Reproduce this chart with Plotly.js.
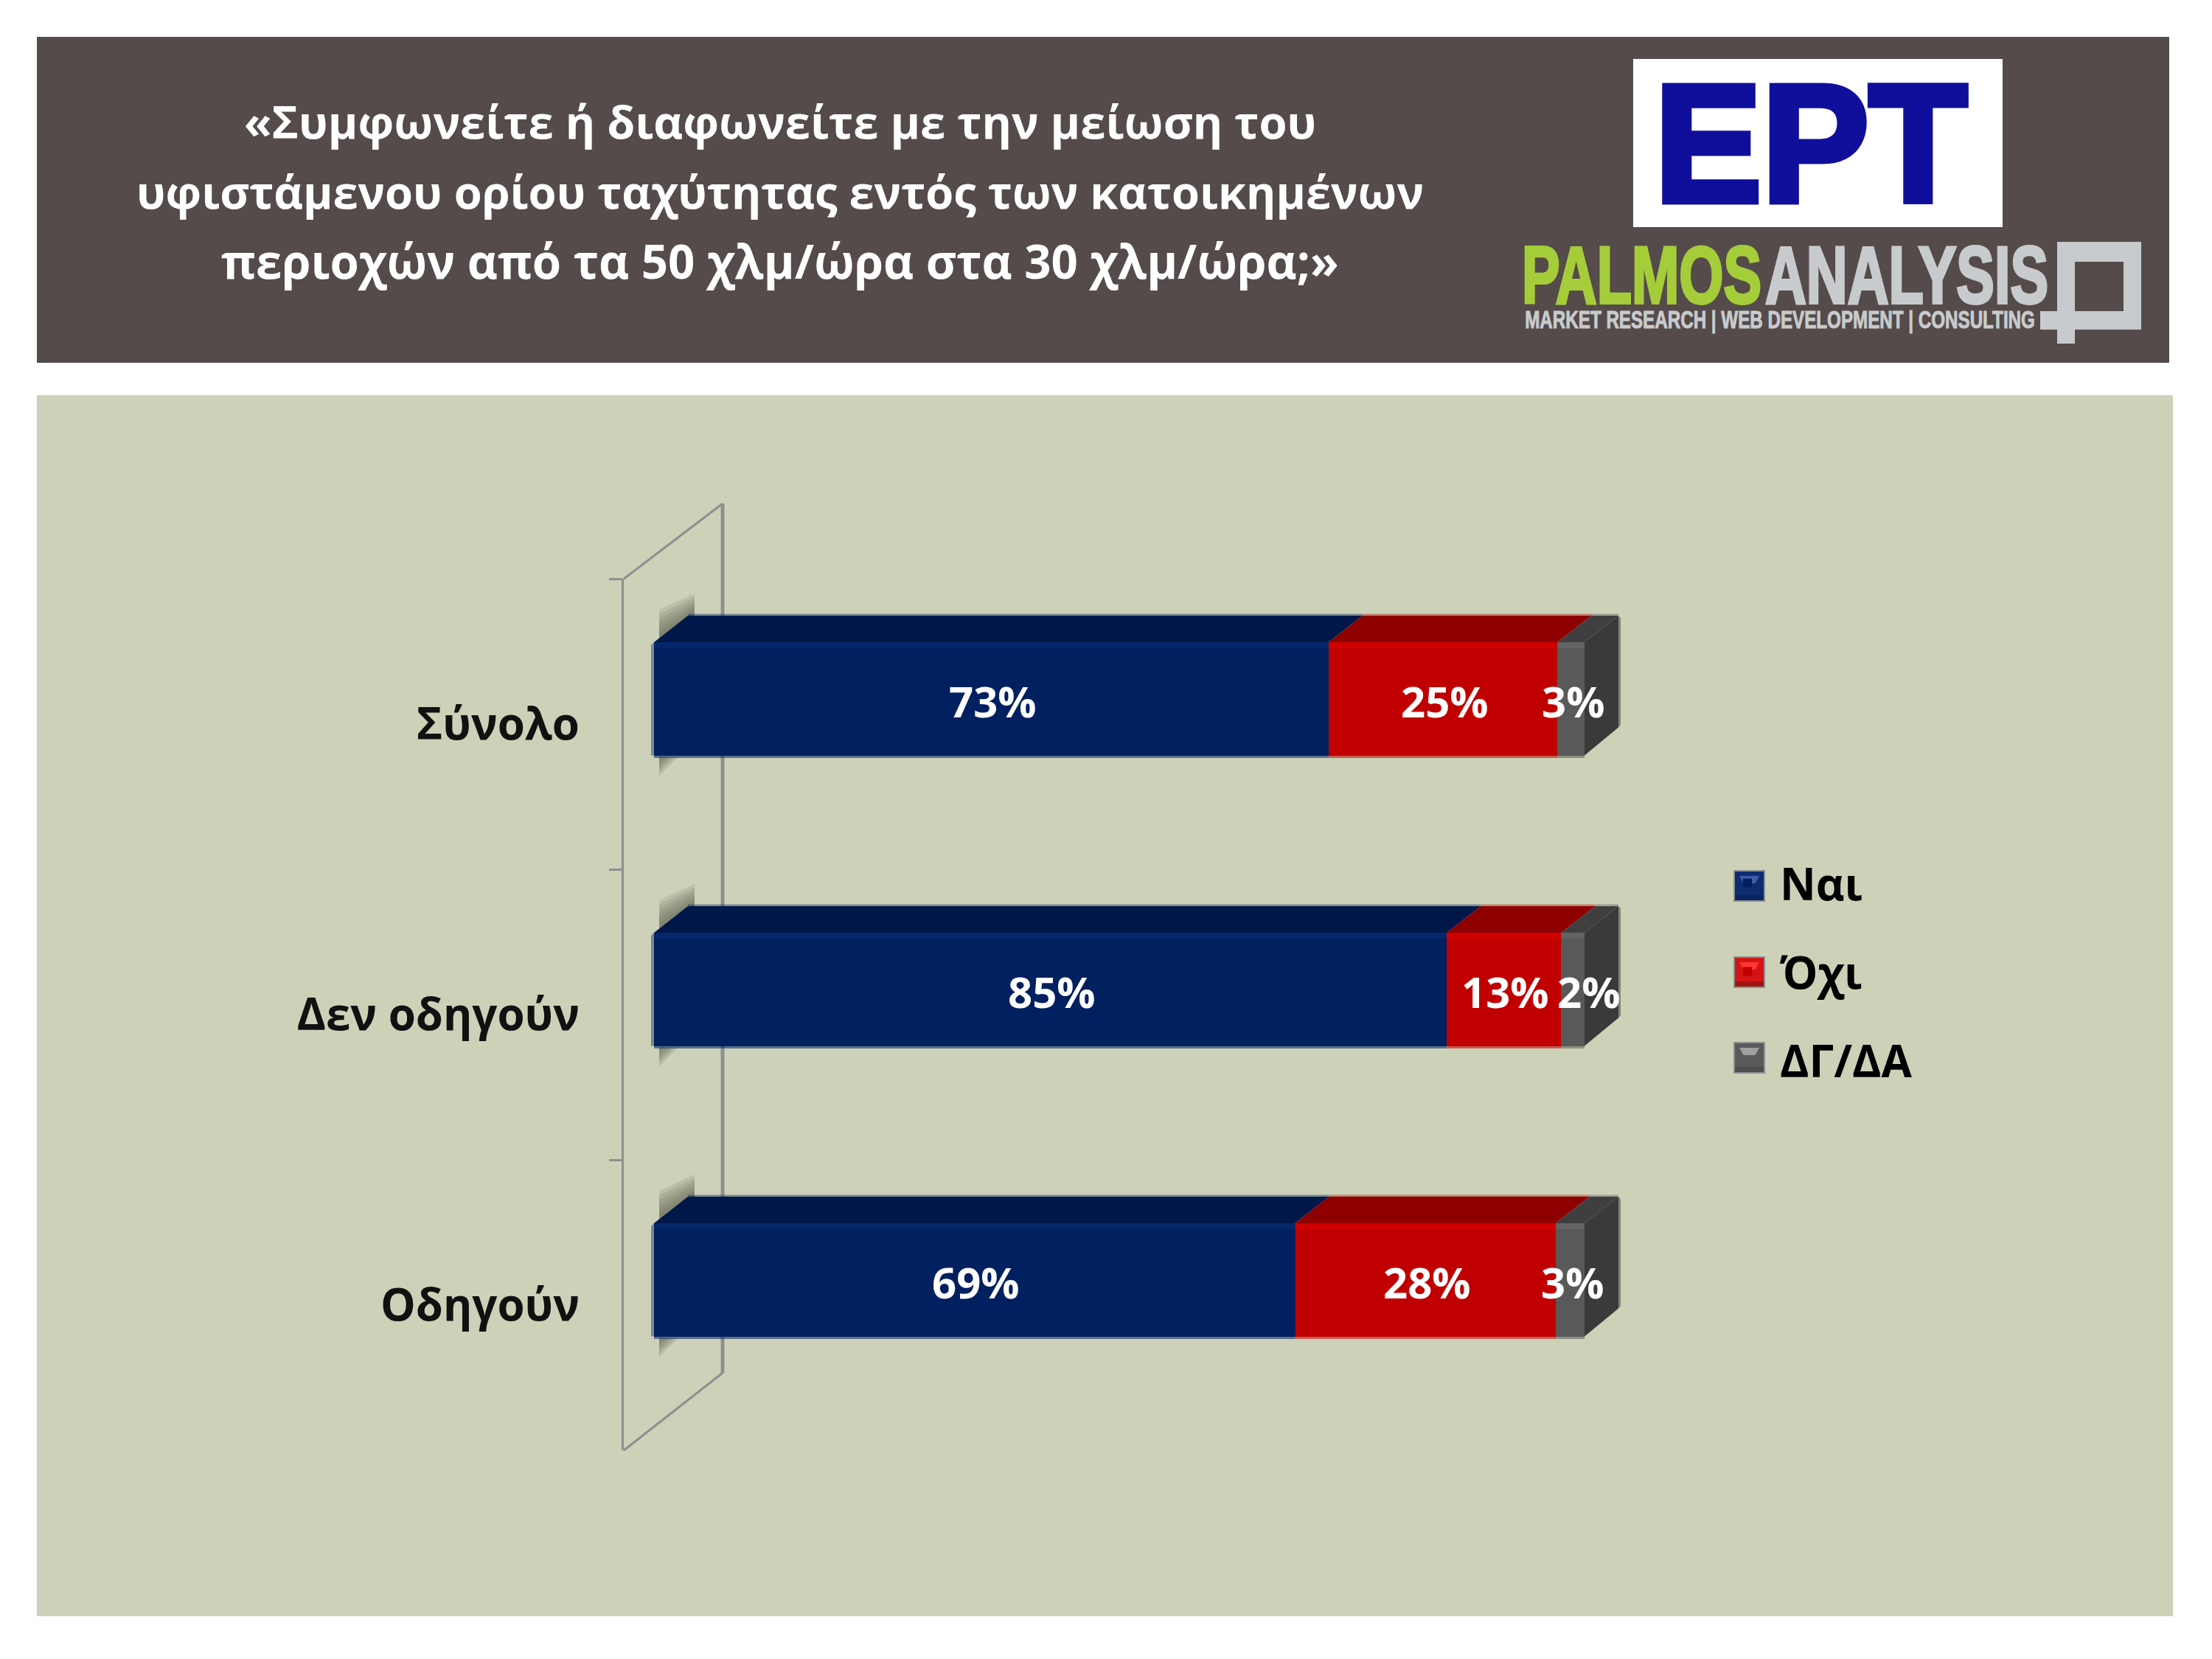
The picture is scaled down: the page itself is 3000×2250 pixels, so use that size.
<!DOCTYPE html>
<html>
<head>
<meta charset="utf-8">
<script src="https://cdn.plot.ly/plotly-3.0.1.min.js"></script>
<style>html,body{margin:0;padding:0;background:#fff}</style>
</head>
<body>
<div id="chart" style="width:3000px;height:2250px"></div>
<script>
const categories = ['Σύνολο', 'Δεν οδηγούν', 'Οδηγούν'];
const seriesNames = ['Ναι', 'Όχι', 'ΔΓ/ΔΑ'];
const yesValues = [72.5, 85.2, 68.9];
const noValues = [24.6, 12.3, 28.0];
const dkValues = [2.9, 2.5, 3.1];
const yesLabels = ['73%', '85%', '69%'];
const noLabels = ['25%', '13%', '28%'];
const dkLabels = ['3%', '2%', '3%'];
const titleLines = [
  '«Συμφωνείτε ή διαφωνείτε με την μείωση του',
  'υφιστάμενου ορίου ταχύτητας εντός των κατοικημένων',
  'περιοχών από τα 50 χλμ/ώρα στα 30 χλμ/ώρα;»'
];
const titleSizes = [61.6, 61.4, 63.6];

const FONT = '"Open Sans", "Noto Sans", sans-serif';
const frontColors = ['#002060', '#c00000', '#595959'];
const topColors = ['#00174a', '#8e0000', '#3f3f3f'];
const bevelColors = ['#04276c', '#cf0000', '#636363'];
const values = [yesValues, noValues, dkValues];
const labels = [yesLabels, noLabels, dkLabels];

// layout frame (page pixels)
const W = 3000, H = 2250;
const PL = 846, PT = 785, PB = 1967, PR = 2300;
const X0 = 887, PX_PER_UNIT = 12.62, BAND = 394;
const xRange = [(PL - X0) / PX_PER_UNIT, (PR - X0) / PX_PER_UNIT];
const BAR_OFFSET = -0.282, BAR_WIDTH = 0.39;
const DX = 46 / PX_PER_UNIT, DY = 36 / BAND;
const px = v => (v - PL) / (PR - PL);
const py = v => 1 - (v - PT) / (PB - PT);
const yp = v => v / BAND;   // pixels to category units
const xp = v => v / PX_PER_UNIT;

const shapes = [];
function rectPaper(x0, y0, x1, y1, color, layer) {
  shapes.push({type: 'rect', xref: 'paper', yref: 'paper', x0: px(x0), x1: px(x1), y0: py(y0), y1: py(y1),
    fillcolor: color, line: {width: 0}, layer: layer || 'below'});
}
function polyPaper(points, color, layer) {
  const d = points.map((p, i) => (i ? 'L' : 'M') + px(p[0]) + ',' + py(p[1])).join(' ') + ' Z';
  shapes.push({type: 'path', xref: 'paper', yref: 'paper', path: d, fillcolor: color, line: {width: 0}, layer: layer || 'below'});
}
function linePaper(x0, y0, x1, y1, width) {
  shapes.push({type: 'line', xref: 'paper', yref: 'paper', x0: px(x0), x1: px(x1), y0: py(y0), y1: py(y1),
    line: {color: '#8f8f8f', width: width}, layer: 'below'});
}
function polyData(points, color, layer, opacity) {
  const d = points.map((p, i) => (i ? 'L' : 'M') + p[0] + ',' + p[1]).join(' ') + ' Z';
  shapes.push({type: 'path', xref: 'x', yref: 'y', path: d, fillcolor: color, line: {width: 0}, layer: layer || 'below', opacity: opacity === undefined ? 1 : opacity});
}

// panels
rectPaper(50, 50, 2942, 492, '#544b4a');
rectPaper(50, 536, 2947, 2192, '#ccd1b8');

// wall of the 3D frame
linePaper(980, 683, 980, 1862, 5);
linePaper(846, 785, 980, 683, 3);
linePaper(846, 1967, 980, 1862, 3);

// 3D faces, built from the data values
const annotations = [];
categories.forEach((c, i) => {
  const top = i + BAR_OFFSET, bottom = top + BAR_WIDTH;
  // soft shadows at the left end of the bars
  [1, .85, .7, .55, .4, .25].forEach(s => {
    polyData([[xp(7), top], [xp(7), top - yp(4 + 40 * s)], [xp(7 + 48), top - DY - yp(30 * s)], [xp(7 + 48), top - DY]], '#54544a', 'below', .14);
    polyData([[xp(7), bottom + yp(2)], [xp(7), bottom + yp(2 + 26 * s)], [xp(7 + 26 * s), bottom + yp(2)]], '#54544a', 'below', .14);
  });
  let cum = 0;
  values.forEach((v, s) => {
    const a = cum, b = cum + v[i];
    polyData([[a, top], [b, top], [b + DX, top - DY], [a + DX, top - DY]], topColors[s]);
    polyData([[a, bottom], [b, bottom], [b, bottom + yp(3.5)], [a, bottom + yp(3.5)]], frontColors[s], 'below', .55);
    polyData([[a + DX, top - DY], [b + DX, top - DY], [b + DX, top - DY - yp(2.5)], [a + DX, top - DY - yp(2.5)]], frontColors[s], 'below', .4);
    polyData([[a, top], [b, top], [b, top + yp(8)], [a, top + yp(8)]], bevelColors[s], 'above');
    if (s === values.length - 1) {
      polyData([[b, top], [b + DX, top - DY], [b + DX, bottom - DY - yp(2)], [b, bottom]], '#3a3a3a');
      polyData([[b + DX, top - DY], [b + DX + xp(3), top - DY + yp(3)], [b + DX + xp(3), bottom - DY - yp(5)], [b + DX, bottom - DY - yp(2)]], '#3a3a3a', 'below', .5);
    }
    annotations.push({
      xref: 'x', yref: 'y', x: (a + b) / 2, y: top + BAR_WIDTH / 2, text: labels[s][i], showarrow: false,
      xshift: (s === 2 ? (i === 1 ? 21 : 3) : 2), yshift: -3,
      font: {family: FONT, size: 58, color: '#ffffff', weight: 700}
    });
    cum = b;
  });
  polyData([[xp(-4), top + yp(4)], [0, top], [0, bottom], [xp(-4), bottom]], '#002060', 'below', .42);
});

// legend swatches sitting under the native legend symbols
const swatches = [
  {y: 1180, base: '#0e2c70', hi: '#3f5daa', lo: '#0a2460'},
  {y: 1297, base: '#d21414', hi: '#ff3434', lo: '#a01414'},
  {y: 1413, base: '#5a5a5a', hi: '#a0a0a0', lo: '#4d4d4d'}
];
swatches.forEach(s => {
  const x0 = 2351, x1 = 2394, y0 = s.y, y1 = s.y + 43;
  rectPaper(x0, y0, x1, y1, '#8b9090', 'above');
  rectPaper(x0 + 2, y0 + 2, x1 - 2, y1 - 2, s.base, 'above');
  polyPaper([[x0 + 8, y0 + 8], [x1 - 8, y0 + 8], [(x0 + x1) / 2 + 8, y0 + 18], [(x0 + x1) / 2 - 8, y0 + 18]], s.hi, 'above');
  rectPaper(x0 + 2, y1 - 9, x1 - 2, y1 - 2, s.lo, 'above');
});

// logos
rectPaper(2215, 80, 2716, 308, '#ffffff');
const GREY = '#c8cbcd';
polyPaper([[2790, 328], [2904, 328], [2904, 447], [2814, 447], [2814, 466], [2790, 466], [2790, 447], [2767, 447], [2767, 422], [2790, 422]], GREY);
rectPaper(2814, 355, 2880, 422, '#544b4a');

function logoText(text, x, y, size, color, family, targetWidth, stroke) {
  annotations.push({
    xref: 'paper', yref: 'paper', x: px(x), y: py(y), xanchor: 'left', yanchor: 'middle', showarrow: false,
    text: text, font: {family: family, size: size, color: color, weight: 700},
    _fit: {targetWidth, stroke, color}
  });
}
const NARROW = '"Liberation Sans Narrow", "Liberation Sans", sans-serif';
logoText('EPT', 2242, 195, 226, '#0f0f9c', '"Liberation Sans", sans-serif', 424, 9);
logoText('PALMOS', 2062, 372, 110, '#a5cd39', NARROW, 325, 4);
logoText('ANALYSIS', 2392, 372, 110, GREY, NARROW, 384, 4);
logoText('MARKET RESEARCH | WEB DEVELOPMENT | CONSULTING', 2066, 434, 33, GREY, NARROW, 692, 1);

const fits = annotations.map(a => a._fit);
annotations.forEach(a => delete a._fit);

const traces = seriesNames.map((name, s) => ({
  type: 'bar', orientation: 'h', name: name, legendgroup: name,
  y: categories, x: values[s],
  width: BAR_WIDTH, offset: BAR_OFFSET,
  marker: {color: frontColors[s], line: {width: 0}},
  textposition: 'none', hoverinfo: 'name+x'
}));

const layout = {
  width: W, height: H, autosize: false,
  paper_bgcolor: '#ffffff', plot_bgcolor: 'rgba(0,0,0,0)',
  margin: {l: PL, r: W - PR, t: PT, b: H - PB, pad: 0},
  barmode: 'stack', bargap: 0,
  title: {
    text: titleLines.map((t, i) => '<span style="font-size:' + titleSizes[i] + 'px">' + t + '</span>').join('<br>'),
    xref: 'container', yref: 'container', x: 1058 / W, xanchor: 'center', y: 1 - 188 / H, yanchor: 'middle',
    font: {family: FONT, size: 73, color: '#ffffff', weight: 700}
  },
  xaxis: {range: xRange, visible: false, fixedrange: true},
  yaxis: {
    type: 'category', categoryorder: 'array', categoryarray: categories, range: [2.5, -0.5],
    tickson: 'boundaries', ticks: 'outside', ticklen: 17, tickwidth: 3, tickcolor: '#8f8f8f',
    showline: true, linecolor: '#8f8f8f', linewidth: 3, showgrid: false, zeroline: false,
    ticklabelstandoff: 45, automargin: false, fixedrange: true,
    tickfont: {family: FONT, size: 60, color: '#111111', weight: 700}
  },
  showlegend: true,
  legend: {
    x: px(2326), y: py(1152), xref: 'paper', yref: 'paper', xanchor: 'left', yanchor: 'top',
    bgcolor: 'rgba(0,0,0,0)', borderwidth: 0, itemwidth: 78, tracegroupgap: 39, traceorder: 'grouped',
    font: {family: FONT, size: 60, color: '#000000', weight: 700},
    itemclick: false, itemdoubleclick: false
  },
  shapes: shapes,
  annotations: annotations
};

Plotly.newPlot('chart', traces, layout, {displayModeBar: false, staticPlot: true}).then(gd => {
  fits.forEach((f, i) => {
    if (!f) return;
    const g = gd.querySelector('.annotation[data-index="' + i + '"]');
    if (!g) return;
    const t = g.querySelector('text');
    if (!t) return;
    const w = t.getBBox().width;
    t.style.transformBox = 'fill-box';
    t.style.transformOrigin = 'left center';
    t.style.transform = 'scaleX(' + (f.targetWidth / w) + ')';
    t.style.stroke = f.color;
    t.style.strokeWidth = f.stroke + 'px';
  });
});
</script>
</body>
</html>
